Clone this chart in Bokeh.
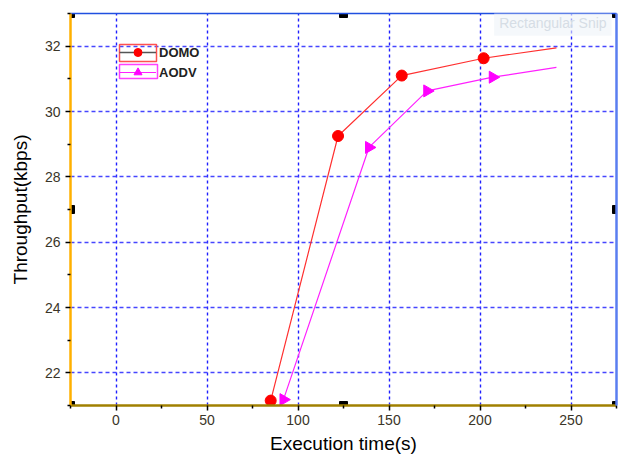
import numpy as np
from bokeh.plotting import figure
from bokeh.models import FixedTicker, LinearAxis, Legend, LegendItem, Label, Range1d, BoxAnnotation
from bokeh.embed import file_html
from bokeh.resources import INLINE

# ---- data ----
domo_x = [85, 122, 157, 202, 242]
domo_y = [21.15, 29.25, 31.10, 31.63, 31.95]
aodv_x = [92, 139, 171, 207, 242]
aodv_y = [21.18, 28.90, 30.63, 31.05, 31.35]
marked = 4  # markers drawn on the first four points only

x_ticks = [0, 50, 100, 150, 200, 250]
x_minor = [-25, 25, 75, 125, 175, 225, 275]
y_ticks = [22, 24, 26, 28, 30, 32]
y_minor = [21, 23, 25, 27, 29, 31, 33]

FONT = "Liberation Sans"

p = figure(width=620, height=457, output_backend="svg", toolbar_location=None,
           x_range=Range1d(-25, 275), y_range=Range1d(21, 33),
           min_border_left=70, min_border_right=4, min_border_top=13, min_border_bottom=52)
p.outline_line_color = None

xa = p.xaxis[0]
xa.ticker = FixedTicker(ticks=x_ticks, minor_ticks=x_minor)
ya = p.yaxis[0]
ya.ticker = FixedTicker(ticks=y_ticks, minor_ticks=y_minor)
for ax in (xa, ya):
    ax.major_tick_in = 0
    ax.major_tick_out = 5
    ax.minor_tick_in = 0
    ax.minor_tick_out = 3
    ax.major_tick_line_color = "black"
    ax.minor_tick_line_color = "black"
    ax.major_tick_line_width = 1.5
    ax.minor_tick_line_width = 1.5
    ax.major_label_text_font = FONT
    ax.major_label_text_font_size = "14px"
    ax.major_label_text_color = "#3a3528"
    ax.axis_label_text_font = FONT
    ax.axis_label_text_font_style = "normal"
    ax.axis_label_text_color = "black"
    ax.axis_label_text_font_size = "19px"
    ax.axis_line_width = 2.5
xa.axis_label = "Execution time(s)"
ya.axis_label = "Throughput(kbps)"
xa.axis_line_color = "#a08000"
ya.axis_line_color = "#ffb000"
xa.major_label_standoff = 4
ya.major_label_standoff = 5
xa.axis_label_standoff = 5
ya.axis_label_standoff = 11

for loc, col, w in (("right", "#5a7ef0", 2.5), ("above", "#2050e0", 1.5)):
    ax = LinearAxis(ticker=FixedTicker(ticks=[]), axis_line_color=col, axis_line_width=w,
                    major_tick_out=0, minor_tick_out=0, major_label_text_font_size="0px")
    p.add_layout(ax, loc)

p.xgrid.grid_line_color = "#1f1fff"
p.xgrid.grid_line_dash = "3 3"
p.xgrid.grid_line_width = 1.4
p.ygrid.grid_line_color = "#4646ff"
p.ygrid.grid_line_dash = "4 3"
p.ygrid.grid_line_width = 1.4

# selection handles of the original screenshot
xs = p.x_range
ys = p.y_range
hx = [xs.start, (xs.start + xs.end) / 2, xs.end, xs.start, xs.end, xs.start, (xs.start + xs.end) / 2, xs.end]
hy = [ys.end, ys.end, ys.end, (ys.start + ys.end) / 2, (ys.start + ys.end) / 2, ys.start, ys.start, ys.start]
p.scatter(hx, hy, marker="square", size=8, fill_color="black", line_color="black")

snip = Label(x=188, y=32.72, text="Rectangular Snip", text_font=FONT, text_font_size="14px",
             text_color="#d6dde5", text_baseline="middle", x_offset=36, padding=5,
             background_fill_color="#eef3f8", background_fill_alpha=0.6)
p.add_layout(snip)

l1 = p.line(domo_x, domo_y, line_color="#ff3030", line_width=1.2)
s1 = p.scatter(domo_x[:marked], domo_y[:marked], marker="circle", size=11,
               fill_color="#ff0000", line_color="#ff0000")
l2 = p.line(aodv_x, aodv_y, line_color="#ff20ff", line_width=1.2)
s2 = p.scatter(aodv_x[:marked], aodv_y[:marked], marker="triangle", size=12, angle=-np.pi / 2,
               fill_color="#ff00ff", line_color="#ff00ff")

g1 = p.line([np.nan, np.nan], [np.nan, np.nan], line_color="#555555", line_width=1.5)
g2 = p.line([np.nan, np.nan], [np.nan, np.nan], line_color="#ff20ff", line_width=1.2)

legend = Legend(items=[LegendItem(label="DOMO", renderers=[g1, s1]),
                       LegendItem(label="AODV", renderers=[g2, s2])],
                location=(49, 323), border_line_color=None, background_fill_alpha=0,
                padding=0, spacing=0, glyph_width=37, glyph_height=20, label_standoff=3,
                label_text_font=FONT, label_text_font_style="bold", label_text_font_size="13px",
                label_text_color="#222222", margin=0)
p.add_layout(legend)

# coloured frames around the legend symbols (screen units, frame-relative)
for (l, r, b, t), c in (((49, 86, 344, 361), "#ff5050"), ((49, 87, 327, 341), "#ff40ff")):
    p.add_layout(BoxAnnotation(left=l, right=r, bottom=b, top=t,
                               left_units="screen", right_units="screen",
                               bottom_units="screen", top_units="screen",
                               fill_alpha=0, line_color=c, line_width=1.5,
                               line_alpha=1.0, line_dash="solid"))

open("out.html", "w").write(file_html(p, INLINE))
